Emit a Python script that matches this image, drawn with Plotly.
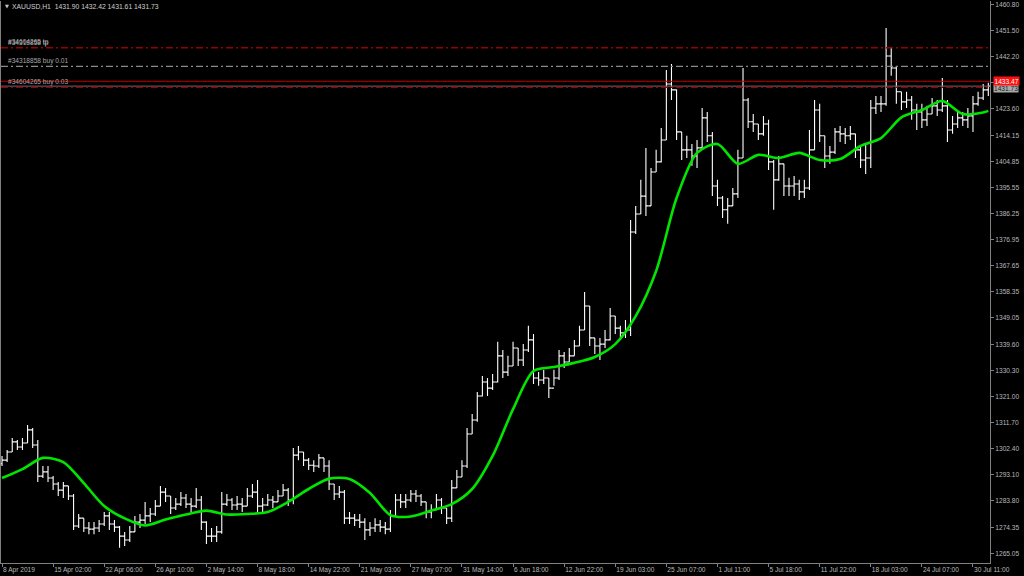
import plotly.graph_objects as go

# ---------------- data ----------------
tick_labels = ["8 Apr 2019", "15 Apr 02:00", "22 Apr 06:00", "26 Apr 10:00", "2 May 14:00",
               "8 May 18:00", "14 May 22:00", "21 May 03:00", "27 May 07:00", "31 May 14:00",
               "6 Jun 18:00", "12 Jun 22:00", "19 Jun 03:00", "25 Jun 07:00", "1 Jul 11:00",
               "5 Jul 18:00", "11 Jul 22:00", "18 Jul 03:00", "24 Jul 07:00", "30 Jul 11:00"]
tick_index = [0, 10, 20, 30, 40, 50, 60, 70, 80, 90, 100, 110, 120, 130, 140, 150, 160, 170, 180, 190]

highs = [
    1299.8, 1301.9, 1306.2, 1305.5, 1306.2, 1310.8, 1309.8, 1305.5, 1296.2, 1296.2,
    1292.6, 1290.5, 1290.5, 1289.1, 1286.2, 1279.1, 1277.6, 1276.2, 1276.2, 1276.9,
    1279.8, 1279.8, 1276.9, 1274.8, 1272.7, 1274.8, 1278.4, 1279.1, 1283.4, 1281.2,
    1284.1, 1289.1, 1288.4, 1285.5, 1284.8, 1286.9, 1286.2, 1284.8, 1288.4, 1285.5,
    1276.5, 1274.1, 1274.8, 1286.9, 1286.2, 1284.8, 1285.5, 1284.8, 1288.4, 1289.8,
    1291.2, 1284.8, 1286.2, 1285.5, 1287.6, 1289.8, 1288.4, 1302.6, 1303.3, 1301.2,
    1299.1, 1298.3, 1300.5, 1299.1, 1298.3, 1289.8, 1289.1, 1287.6, 1279.8, 1279.1,
    1279.1, 1277.6, 1276.2, 1277.6, 1276.9, 1276.2, 1280.5, 1286.2, 1286.2, 1286.2,
    1287.6, 1287.6, 1286.2, 1283.4, 1282.6, 1286.2, 1284.8, 1281.2, 1291.2, 1294.8,
    1298.3, 1309.8, 1314.8, 1322.6, 1328.3, 1327.6, 1329.0, 1340.5, 1337.6, 1335.5,
    1340.5, 1338.3, 1339.7, 1346.2, 1343.3, 1329.7, 1330.5, 1327.6, 1330.5, 1337.6,
    1336.9, 1338.3, 1341.2, 1346.2, 1358.3, 1353.3, 1341.9, 1341.9, 1344.7, 1352.6,
    1349.7, 1346.2, 1348.3, 1384.0, 1389.0, 1398.3, 1409.7, 1402.5, 1409.0, 1416.8,
    1437.5, 1439.6, 1430.5, 1415.4, 1414.0, 1411.1, 1412.5, 1423.9, 1422.5, 1415.4,
    1398.3, 1392.5, 1391.8, 1395.4, 1409.0, 1438.2, 1427.5, 1421.8, 1418.2, 1421.1,
    1419.7, 1405.4, 1406.8, 1404.0, 1399.0, 1399.7, 1398.3, 1398.3, 1416.1, 1426.8,
    1425.4, 1414.0, 1410.4, 1416.8, 1417.5, 1416.8, 1417.5, 1414.7, 1410.4, 1411.1,
    1426.8, 1428.2, 1428.2, 1452.5, 1445.4, 1438.9, 1429.7, 1429.7, 1428.2, 1425.4,
    1425.4, 1424.7, 1427.5, 1426.8, 1434.6, 1426.8, 1421.1, 1422.5, 1422.5, 1423.9,
    1428.2, 1429.7, 1432.5, 1432.9]

lows = [
    1296.2, 1297.6, 1301.2, 1301.9, 1301.9, 1304.4, 1302.6, 1290.5, 1291.9, 1290.5,
    1287.6, 1285.5, 1284.8, 1284.1, 1273.4, 1274.1, 1272.7, 1271.9, 1271.9, 1272.7,
    1274.8, 1273.4, 1272.7, 1267.0, 1267.7, 1269.1, 1272.7, 1274.1, 1275.5, 1276.2,
    1278.4, 1281.9, 1283.4, 1279.1, 1280.5, 1281.9, 1281.2, 1279.8, 1281.2, 1273.4,
    1268.4, 1269.1, 1269.1, 1272.0, 1281.9, 1280.5, 1280.5, 1279.8, 1281.9, 1284.8,
    1279.8, 1279.8, 1281.9, 1281.2, 1283.4, 1285.5, 1281.9, 1282.6, 1298.3, 1296.2,
    1294.8, 1294.1, 1295.5, 1294.1, 1287.6, 1284.1, 1284.8, 1275.5, 1275.5, 1274.8,
    1274.1, 1269.8, 1271.2, 1272.7, 1272.7, 1271.9, 1272.7, 1278.4, 1281.2, 1281.2,
    1283.4, 1283.4, 1281.9, 1277.6, 1277.6, 1280.5, 1279.1, 1275.5, 1276.2, 1288.4,
    1292.3, 1295.5, 1307.6, 1312.0, 1321.0, 1321.2, 1323.3, 1326.0, 1327.6, 1328.3,
    1331.9, 1331.9, 1331.9, 1336.9, 1325.5, 1324.8, 1325.5, 1320.5, 1324.8, 1326.9,
    1331.2, 1333.3, 1335.5, 1339.0, 1344.7, 1339.0, 1336.2, 1334.0, 1338.3, 1341.0,
    1343.3, 1341.2, 1341.9, 1342.6, 1379.0, 1386.1, 1385.4, 1389.0, 1401.1, 1404.5,
    1412.5, 1426.8, 1412.5, 1405.4, 1406.1, 1403.3, 1402.5, 1409.5, 1411.8, 1392.5,
    1389.0, 1384.7, 1382.6, 1389.0, 1391.8, 1406.1, 1416.8, 1415.4, 1412.5, 1414.0,
    1401.8, 1387.6, 1398.0, 1392.5, 1392.5, 1392.5, 1391.1, 1391.8, 1394.7, 1409.0,
    1411.8, 1402.5, 1404.0, 1407.5, 1411.8, 1411.1, 1412.5, 1406.1, 1402.5, 1400.4,
    1402.5, 1421.8, 1422.5, 1424.7, 1435.4, 1425.4, 1423.2, 1423.9, 1419.7, 1416.1,
    1416.8, 1417.5, 1421.8, 1421.1, 1422.5, 1411.8, 1414.7, 1416.8, 1417.5, 1416.8,
    1415.4, 1424.7, 1426.8, 1428.2]

closes = [
    1298.3, 1301.2, 1304.8, 1303.0, 1304.4, 1309.1, 1303.7, 1292.6, 1294.1, 1291.9,
    1289.8, 1287.6, 1289.1, 1285.5, 1274.8, 1277.6, 1274.1, 1273.7, 1274.1, 1275.5,
    1278.4, 1275.5, 1274.4, 1271.2, 1269.8, 1272.7, 1276.2, 1276.9, 1278.4, 1279.1,
    1281.9, 1286.9, 1285.5, 1281.2, 1282.6, 1284.8, 1282.6, 1281.9, 1284.1, 1276.2,
    1271.2, 1271.2, 1272.7, 1282.6, 1284.1, 1282.3, 1282.6, 1281.9, 1285.5, 1286.9,
    1281.9, 1282.3, 1284.1, 1283.4, 1285.5, 1287.6, 1284.1, 1300.1, 1301.2, 1298.3,
    1296.5, 1296.2, 1299.1, 1296.2, 1289.8, 1286.2, 1286.9, 1277.6, 1277.6, 1276.9,
    1276.2, 1273.4, 1274.1, 1275.2, 1274.4, 1273.7, 1278.4, 1284.1, 1283.4, 1284.1,
    1286.2, 1285.5, 1283.4, 1279.8, 1280.5, 1284.1, 1281.2, 1277.6, 1288.4, 1292.3,
    1296.2, 1307.6, 1312.6, 1321.2, 1326.2, 1324.0, 1326.2, 1335.5, 1329.7, 1331.9,
    1338.3, 1334.0, 1337.6, 1341.2, 1327.6, 1326.9, 1327.6, 1324.0, 1327.6, 1335.5,
    1333.3, 1335.5, 1339.0, 1344.7, 1353.3, 1341.9, 1339.0, 1339.7, 1341.2, 1349.7,
    1345.4, 1343.7, 1344.7, 1379.7, 1386.1, 1392.5, 1389.0, 1401.1, 1404.7, 1412.5,
    1432.5, 1430.4, 1415.4, 1409.0, 1409.0, 1406.8, 1409.7, 1420.4, 1414.0, 1396.1,
    1391.8, 1387.6, 1389.0, 1393.3, 1406.1, 1426.8, 1419.0, 1418.2, 1414.7, 1418.2,
    1404.7, 1398.3, 1404.0, 1396.1, 1396.1, 1396.8, 1394.0, 1395.4, 1409.0, 1423.2,
    1414.0, 1406.8, 1408.2, 1415.4, 1414.7, 1414.0, 1414.7, 1409.0, 1405.4, 1406.1,
    1423.9, 1425.4, 1425.4, 1442.5, 1438.2, 1429.7, 1426.1, 1426.8, 1423.2, 1422.5,
    1419.7, 1421.8, 1424.7, 1423.2, 1424.7, 1416.1, 1418.2, 1420.4, 1419.7, 1421.1,
    1425.4, 1427.5, 1430.4, 1431.73]
first_open = 1297.0

ma_index = [0, 4, 8, 12, 16, 20, 24, 28, 32, 36, 40, 44, 48, 52, 56, 60, 64, 68, 72, 76,
            80, 84, 88, 92, 96, 100, 104, 108, 112, 116, 120, 124, 128, 132, 136, 140, 144,
            148, 152, 156, 160, 164, 168, 172, 176, 180, 184, 188, 192, 193]
ma_values = [1291.9, 1295.1, 1299.1, 1297.6, 1290.1, 1281.9, 1277.5, 1275.0, 1277.1, 1278.9,
             1280.3, 1278.9, 1279.1, 1279.8, 1283.4, 1288.0, 1291.7, 1291.6, 1286.6, 1278.7,
             1278.2, 1280.3, 1282.6, 1288.0, 1299.8, 1316.5, 1330.1, 1331.5, 1333.0, 1335.1,
             1339.7, 1349.7, 1365.8, 1391.8, 1407.9, 1411.1, 1404.0, 1407.2, 1406.1, 1407.9,
             1405.4, 1405.7, 1410.4, 1413.2, 1420.6, 1423.2, 1426.4, 1421.8, 1422.3, 1422.9]

y_tick_values = [1460.80, 1451.50, 1442.20, 1432.90, 1423.60, 1414.15, 1404.85, 1395.55,
                 1386.25, 1376.95, 1367.65, 1358.35, 1349.05, 1339.60, 1330.30, 1321.00,
                 1311.70, 1302.40, 1293.10, 1283.80, 1274.35, 1265.05]
y_tick_text = ["%.2f" % v for v in y_tick_values]

tp_price = 1445.4
buy001_price = 1438.8
ask_price = 1433.47
bid_price = 1431.73
buy003_price = 1431.3
title_text = "XAUUSD,H1  1431.90 1432.42 1431.61 1431.73"

# ---------------- figure ----------------
FONT = "Liberation Sans"
opens = [first_open] + closes[:-1]
bars = list(range(len(closes)))

fig = go.Figure()
fig.add_trace(go.Ohlc(
    x=bars, open=opens, high=highs, low=lows, close=closes,
    increasing=dict(line=dict(color="#ffffff", width=1.1)),
    decreasing=dict(line=dict(color="#ffffff", width=1.1)),
    tickwidth=0.5, hoverinfo="skip"))
fig.add_trace(go.Scatter(
    x=ma_index, y=ma_values, mode="lines",
    line=dict(color="#00e600", width=2.6, shape="spline", smoothing=0.8),
    hoverinfo="skip"))

shapes = [
    dict(type="line", xref="paper", x0=0, x1=1, yref="y", y0=tp_price, y1=tp_price,
         line=dict(color="#9a0000", width=1.4, dash="7px,3px,2px,3px")),
    dict(type="line", xref="paper", x0=0, x1=1, yref="y", y0=buy001_price, y1=buy001_price,
         line=dict(color="#8a8a8a", width=1.2, dash="7px,3px,2px,3px")),
    dict(type="line", xref="paper", x0=0, x1=1, yref="y", y0=ask_price, y1=ask_price,
         line=dict(color="#c00000", width=1)),
    dict(type="line", xref="paper", x0=0, x1=1, yref="y", y0=bid_price, y1=bid_price,
         line=dict(color="#6a6a7a", width=1)),
    dict(type="line", xref="paper", x0=0, x1=1, yref="y", y0=buy003_price, y1=buy003_price,
         line=dict(color="#9a0000", width=1.2, dash="7px,3px,2px,3px")),
]

label_font = dict(family=FONT, size=6.6, color="#a8a8a8")
annotations = [
    dict(text="▼", xref="paper", yref="paper", x=0.002, y=0.991, xanchor="left", yanchor="middle",
         showarrow=False, font=dict(family="DejaVu Sans", size=5, color="#c8c8c8")),
    dict(text=title_text, xref="paper", yref="paper", x=0.009, y=0.991, xanchor="left",
         yanchor="middle", showarrow=False, font=dict(family=FONT, size=6.8, color="#d0d0d0")),
    dict(text="#34318858 tp", xref="paper", yref="y", x=0.005, y=tp_price, xanchor="left",
         yanchor="bottom", showarrow=False, font=label_font, yshift=-1),
    dict(text="#34604265 tp", xref="paper", yref="y", x=0.0055, y=tp_price, xanchor="left",
         yanchor="bottom", showarrow=False, font=label_font, yshift=0),
    dict(text="#34318858 buy 0.01", xref="paper", yref="y", x=0.005, y=buy001_price, xanchor="left",
         yanchor="bottom", showarrow=False, font=label_font, yshift=-1),
    dict(text="#34604265 buy 0.03", xref="paper", yref="y", x=0.005, y=buy003_price, xanchor="left",
         yanchor="bottom", showarrow=False, font=label_font, yshift=-1),
    dict(text="1431.73", xref="paper", yref="y", x=1, y=bid_price, xanchor="left", yanchor="middle",
         xshift=3, yshift=-2, showarrow=False, bgcolor="#a8a8a8", borderpad=0,
         font=dict(family=FONT, size=6.6, color="#202020")),
    dict(text="1433.47", xref="paper", yref="y", x=1, y=ask_price, xanchor="left", yanchor="middle",
         xshift=3, showarrow=False, bgcolor="#ff1010", borderpad=0.5,
         font=dict(family=FONT, size=6.6, color="#ffffff")),
]

fig.update_layout(
    width=1024, height=576,
    margin=dict(l=1, r=34, t=1, b=13),
    paper_bgcolor="#000000", plot_bgcolor="#000000",
    showlegend=False,
    shapes=shapes, annotations=annotations,
    xaxis=dict(range=[-0.2, 193.33], tickmode="array", tickvals=tick_index, ticktext=tick_labels,
               ticks="outside", ticklen=3, tickcolor="#808080", showline=True, linecolor="#808080",
               linewidth=1, showgrid=False, zeroline=False, rangeslider=dict(visible=False),
               ticklabelposition="outside right",
               tickfont=dict(family=FONT, size=6.6, color="#b8b8b8")),
    yaxis=dict(side="right", range=[1261.6, 1462.1], tickmode="array", tickvals=y_tick_values,
               ticktext=y_tick_text, ticks="outside", ticklen=3, tickcolor="#808080",
               showline=True, mirror=True, linecolor="#808080", linewidth=1, showgrid=False,
               zeroline=False, tickfont=dict(family=FONT, size=6.6, color="#b8b8b8")),
)

fig.write_html("out.html", config={"displayModeBar": False},
               post_script="document.body.style.margin='0';document.body.style.overflow='hidden';")
